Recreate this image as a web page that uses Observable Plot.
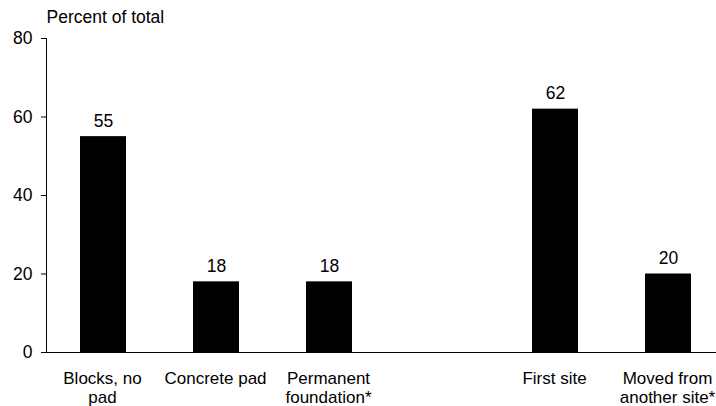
<!DOCTYPE html>
<html>
<head>
<meta charset="utf-8">
<script src="https://cdn.jsdelivr.net/npm/d3@7"></script>
<script src="https://cdn.jsdelivr.net/npm/@observablehq/plot@0.6"></script>
<style>
  html, body { margin: 0; padding: 0; background: #fff; }
</style>
</head>
<body>
<div id="chart"></div>
<script>
// Site placement categories; the empty slot separates the two groups.
const categories = ["Blocks, no pad", "Concrete pad", "Permanent foundation*", "", "First site", "Moved from another site*"];
const tickLabels = ["Blocks, no\npad", "Concrete pad", "Permanent\nfoundation*", "", "First site", "Moved from\nanother site*"];
const percents = [55, 18, 18, null, 62, 20];
const yTicks = [0, 20, 40, 60, 80];
const yLabel = "Percent of total";

const data = categories
  .map((category, i) => ({category, value: percents[i]}))
  .filter(d => d.value != null);

const chart = Plot.plot({
  width: 716,
  height: 406,
  marginTop: 38,
  marginBottom: 54,
  marginLeft: 46,
  marginRight: 0,
  style: {
    fontFamily: "'Liberation Sans', Arial, sans-serif",
    fontSize: "17.5px",
    color: "#000",
    background: "#fff"
  },
  x: {domain: categories, range: [46, 726], paddingInner: 0.59, paddingOuter: 0.295},
  y: {domain: [0, 80]},
  marks: [
    Plot.barY(data, {x: "category", y: "value", fill: "#000"}),
    Plot.text(data, {x: "category", y: "value", text: d => String(d.value), lineAnchor: "bottom", dy: -10, fill: "#000"}),
    Plot.axisY({ticks: yTicks, tickSize: 5, tickPadding: 9, label: null, stroke: "#000"}),
    Plot.axisX({
      tickSize: 0,
      tickPadding: 18,
      label: null,
      fontSize: 17,
      dx: -1,
      lineHeight: 1.12,
      tickFormat: d => tickLabels[categories.indexOf(d)]
    }),
    Plot.frame({anchor: "left", stroke: "#000"}),
    Plot.ruleY([0], {stroke: "#000"}),
    Plot.text([yLabel], {frameAnchor: "top-left", textAnchor: "start", lineAnchor: "bottom", dy: -16, fill: "#000"})
  ]
});

document.getElementById("chart").appendChild(chart);
</script>
</body>
</html>
